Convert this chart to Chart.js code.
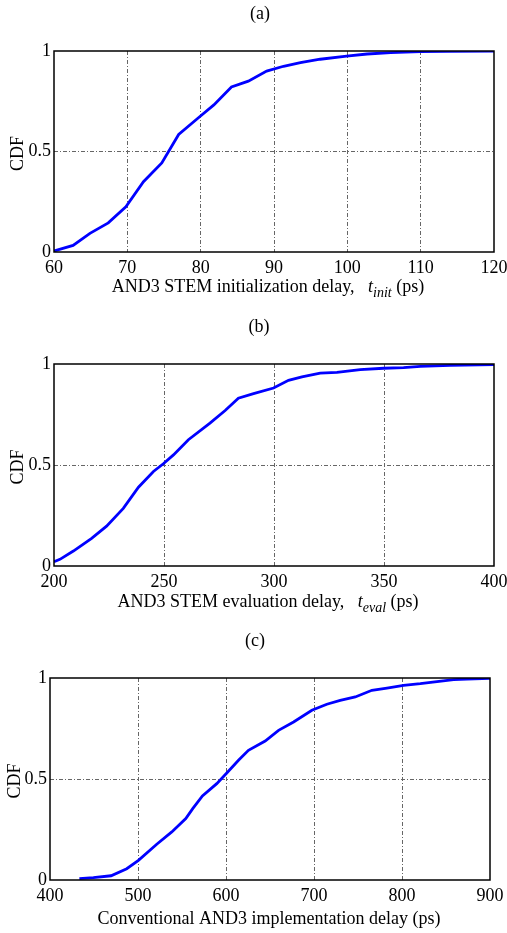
<!DOCTYPE html>
<html>
<head>
<meta charset="utf-8">
<script src="https://cdn.jsdelivr.net/npm/chart.js@4/dist/chart.umd.min.js"></script>
<style>
  html, body { margin: 0; padding: 0; background: #fff; }
  #wrap { position: relative; width: 507px; height: 933px; }
  canvas { position: absolute; left: 0; }
</style>
</head>
<body>
<div id="wrap">
  <canvas id="chartA" width="507" height="310" style="top:0"></canvas>
  <canvas id="chartB" width="507" height="310" style="top:310px"></canvas>
  <canvas id="chartC" width="507" height="313" style="top:620px"></canvas>
</div>
<script>
// (a) initialization delay CDF
const initDelay = [60, 62.6, 64.9, 67.4, 69.8, 72.2, 74.7, 77.0, 79.9, 81.8, 84.2, 86.5, 89.0, 91.3, 93.6, 96.3, 99.9, 102.7, 105.9, 110, 113.6, 120];
const initCdf = [0.005, 0.033, 0.093, 0.145, 0.225, 0.35, 0.443, 0.585, 0.674, 0.732, 0.821, 0.85, 0.9, 0.924, 0.942, 0.959, 0.975, 0.985, 0.992, 0.997, 0.998, 1.0];

// (b) evaluation delay CDF
const evalDelay = [200, 202.7, 208.8, 217.1, 223.9, 231.5, 238.4, 245.2, 249.7, 254.3, 261.1, 270.9, 277.8, 283.8, 290.7, 299.8, 306.6, 312.7, 321, 328.6, 339.2, 349.8, 358.9, 366.5, 380.1, 400];
const evalCdf = [0.021, 0.033, 0.074, 0.137, 0.197, 0.285, 0.39, 0.468, 0.506, 0.55, 0.625, 0.707, 0.77, 0.831, 0.853, 0.881, 0.919, 0.936, 0.955, 0.959, 0.972, 0.979, 0.982, 0.988, 0.993, 0.997];

// (c) conventional implementation delay CDF
const convDelay = [433.4, 449.3, 469.4, 487.2, 500.5, 521.3, 538.4, 554.3, 562.2, 573.2, 589.5, 600.9, 614.2, 625.5, 644.5, 659.7, 676.8, 697.6, 714.6, 729.8, 746.9, 765.8, 782.9, 801.8, 820.8, 839.7, 858.7, 873.8, 900];
const convCdf = [0.007, 0.012, 0.021, 0.056, 0.097, 0.177, 0.238, 0.304, 0.353, 0.416, 0.477, 0.53, 0.593, 0.642, 0.688, 0.741, 0.782, 0.84, 0.87, 0.889, 0.906, 0.939, 0.95, 0.964, 0.972, 0.982, 0.992, 0.995, 0.998];

const cdfTicks = [0, 0.5, 1];

const FONT = '"Liberation Serif", "Times New Roman", serif';

// frame, panel title, CDF label and the mixed-style x label
const paperLabels = {
  id: 'paperLabels',
  afterDraw(chart, args, o) {
    const ctx = chart.ctx, a = chart.chartArea;
    ctx.save();
    ctx.strokeStyle = '#000';
    ctx.lineWidth = 1.5;
    ctx.strokeRect(a.left, a.top, a.right - a.left, a.bottom - a.top);

    ctx.fillStyle = '#000';
    ctx.textAlign = 'center';
    ctx.textBaseline = 'middle';
    ctx.font = '18px ' + FONT;
    ctx.fillText(o.title, o.titleX, o.titleY);

    ctx.save();
    ctx.translate(o.yLabelX, (a.top + a.bottom) / 2 + 2);
    ctx.rotate(-Math.PI / 2);
    ctx.fillText('CDF', 0, 0);
    ctx.restore();

    // x label pieces
    ctx.textAlign = 'left';
    ctx.textBaseline = 'alphabetic';
    const fontOf = p => (p.italic ? 'italic ' : '') + (p.sub ? '14px ' : '18px ') + FONT;
    let total = 0;
    o.xLabel.forEach(p => { ctx.font = fontOf(p); total += ctx.measureText(p.text).width; });
    let x = o.xLabelX - total / 2;
    o.xLabel.forEach(p => {
      ctx.font = fontOf(p);
      ctx.fillText(p.text, x, o.xLabelY + (p.sub ? 5 : 0));
      x += ctx.measureText(p.text).width;
    });
    ctx.restore();
  }
};

function makeChart(id, xs, ys, xMin, xMax, xStep, pad, labels) {
  const points = xs.map((x, i) => ({ x: x, y: ys[i] }));
  const gridColor = (min, max) => c =>
    (c.tick && (c.tick.value === min || c.tick.value === max)) ? 'rgba(0,0,0,0)' : '#666';
  return new Chart(document.getElementById(id), {
    type: 'line',
    data: {
      datasets: [{
        data: points,
        borderColor: '#0000ff',
        borderWidth: 2.8,
        pointRadius: 0,
        tension: 0,
        fill: false
      }]
    },
    plugins: [paperLabels],
    options: {
      responsive: false,
      animation: false,
      events: [],
      layout: { padding: pad },
      plugins: {
        legend: { display: false },
        tooltip: { enabled: false },
        paperLabels: labels
      },
      scales: {
        x: {
          type: 'linear',
          min: xMin,
          max: xMax,
          afterFit: s => { s.height = 30; s.paddingLeft = 0; s.paddingRight = 0; },
          ticks: { stepSize: xStep, padding: 5, color: '#000', font: { family: FONT, size: 18 } },
          grid: { color: gridColor(xMin, xMax), lineWidth: 1, drawTicks: false },
          border: { display: false, dash: [4, 2, 1, 2] }
        },
        y: {
          type: 'linear',
          min: 0,
          max: 1,
          afterFit: s => { s.width = labels.plotLeft; s.paddingTop = 0; s.paddingBottom = 0; },
          afterBuildTicks: s => { s.ticks = cdfTicks.map(v => ({ value: v })); },
          ticks: {
            padding: 3,
            color: '#000',
            font: { family: FONT, size: 18 },
            callback: v => String(v)
          },
          grid: { color: gridColor(0, 1), lineWidth: 1, drawTicks: false },
          border: { display: false, dash: [4, 2, 1, 2] }
        }
      }
    }
  });
}

makeChart('chartA', initDelay, initCdf, 60, 120, 10,
  { top: 51, right: 13, bottom: 28, left: 0 },
  {
    plotLeft: 54, title: '(a)', titleX: 260, titleY: 14, yLabelX: 18,
    xLabelX: 268, xLabelY: 292,
    xLabel: [
      { text: 'AND3 STEM initialization delay,   ' },
      { text: 't', italic: true },
      { text: 'init', italic: true, sub: true },
      { text: ' (ps)' }
    ]
  });

makeChart('chartB', evalDelay, evalCdf, 200, 400, 50,
  { top: 54, right: 13, bottom: 24, left: 0 },
  {
    plotLeft: 54, title: '(b)', titleX: 259, titleY: 17, yLabelX: 18,
    xLabelX: 268, xLabelY: 297,
    xLabel: [
      { text: 'AND3 STEM evaluation delay,   ' },
      { text: 't', italic: true },
      { text: 'eval', italic: true, sub: true },
      { text: ' (ps)' }
    ]
  });

makeChart('chartC', convDelay, convCdf, 400, 900, 100,
  { top: 58, right: 17, bottom: 23, left: 0 },
  {
    plotLeft: 50, title: '(c)', titleX: 255, titleY: 21, yLabelX: 15,
    xLabelX: 269, xLabelY: 304,
    xLabel: [
      { text: 'Conventional AND3 implementation delay (ps)' }
    ]
  });
</script>
</body>
</html>
